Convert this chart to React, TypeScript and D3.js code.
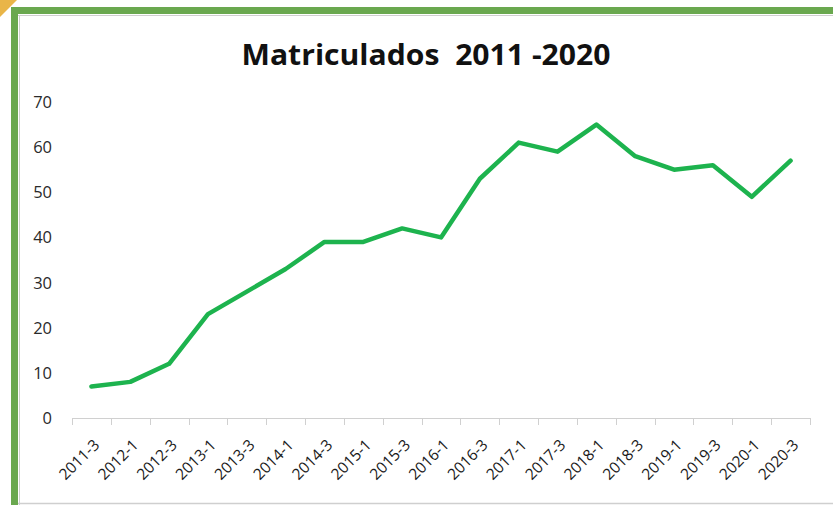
import { useMemo } from "react";
import * as d3 from "d3";

const WIDTH = 833;
const HEIGHT = 505;
const PLOT = { left: 72, right: 810, top: 102, bottom: 418 };

const periods = [
  "2011-3", "2012-1", "2012-3", "2013-1", "2013-3", "2014-1", "2014-3",
  "2015-1", "2015-3", "2016-1", "2016-3", "2017-1", "2017-3", "2018-1",
  "2018-3", "2019-1", "2019-3", "2020-1", "2020-3",
];
const enrolled = [7, 8, 12, 23, 28, 33, 39, 39, 42, 40, 53, 61, 59, 65, 58, 55, 56, 49, 57];
const yTickValues = [0, 10, 20, 30, 40, 50, 60, 70];

const TITLE = "Matriculados  2011 -2020";

export default function App() {
  const x = useMemo(
    () => d3.scaleBand<string>().domain(periods).range([PLOT.left, PLOT.right]),
    [],
  );
  const y = useMemo(
    () => d3.scaleLinear().domain([0, 70]).range([PLOT.bottom, PLOT.top]),
    [],
  );

  const rows = periods.map((p, i) => ({ period: p, value: enrolled[i] }));
  const linePath =
    d3
      .line<{ period: string; value: number }>()
      .x((d) => (x(d.period) ?? 0) + x.bandwidth() / 2)
      .y((d) => y(d.value))(rows) || "";

  const boundaries = [...periods.map((p) => x(p) ?? 0), PLOT.right];

  return (
    <svg
      width={WIDTH}
      height={HEIGHT}
      viewBox={`0 0 ${WIDTH} ${HEIGHT}`}
      style={{ position: "absolute", left: 0, top: 0, background: "#fff" }}
    >
      {/* frame */}
      <rect x={0} y={0} width={WIDTH} height={HEIGHT} fill="#fff" />
      <line x1={18} x2={WIDTH} y1={15.5} y2={15.5} stroke="#cfcfcf" strokeWidth={1} />
      <line x1={19.5} x2={19.5} y1={15} y2={HEIGHT} stroke="#cfcfcf" strokeWidth={1} />
      <line x1={18} x2={WIDTH} y1={503.5} y2={503.5} stroke="#cfcfcf" strokeWidth={1.5} />
      <rect x={11} y={7} width={WIDTH - 11} height={7} fill="#6aa84f" />
      <rect x={11} y={7} width={7} height={HEIGHT - 7} fill="#6aa84f" />
      <path d="M0,0 L17,0 L0,17 Z" fill="#e9b548" />

      <text
        x={426}
        y={65}
        textAnchor="middle"
        fontFamily="'Open Sans', sans-serif"
        fontWeight={700}
        fontSize={29}
        fill="#111"
        textLength={369}
        lengthAdjust="spacingAndGlyphs"
        style={{ whiteSpace: "pre" }}
      >
        {TITLE}
      </text>

      {/* y axis labels */}
      {yTickValues.map((t) => (
        <text
          key={`y-${t}`}
          x={52}
          y={y(t) + 6}
          textAnchor="end"
          fontFamily="'Open Sans', sans-serif"
          fontSize={16.5}
          fill="#2a2a2a"
        >
          {t}
        </text>
      ))}

      {/* x axis */}
      <line x1={PLOT.left} x2={PLOT.right} y1={PLOT.bottom + 0.5} y2={PLOT.bottom + 0.5} stroke="#d0d0d0" />
      {boundaries.map((bx, i) => (
        <line
          key={`tick-${i}`}
          x1={Math.round(bx) + 0.5}
          x2={Math.round(bx) + 0.5}
          y1={PLOT.bottom}
          y2={PLOT.bottom + 7}
          stroke="#d0d0d0"
        />
      ))}
      {periods.map((p) => {
        const cx = (x(p) ?? 0) + x.bandwidth() / 2;
        return (
          <text
            key={`x-${p}`}
            transform={`translate(${cx + 9} ${PLOT.bottom + 28}) rotate(-45)`}
            textAnchor="end"
            fontFamily="'Open Sans', sans-serif"
            fontSize={15.5}
            fill="#1a1a1a"
          >
            {p}
          </text>
        );
      })}

      <path
        d={linePath}
        fill="none"
        stroke="#1db34e"
        strokeWidth={4.5}
        strokeLinejoin="round"
        strokeLinecap="round"
      />
    </svg>
  );
}
